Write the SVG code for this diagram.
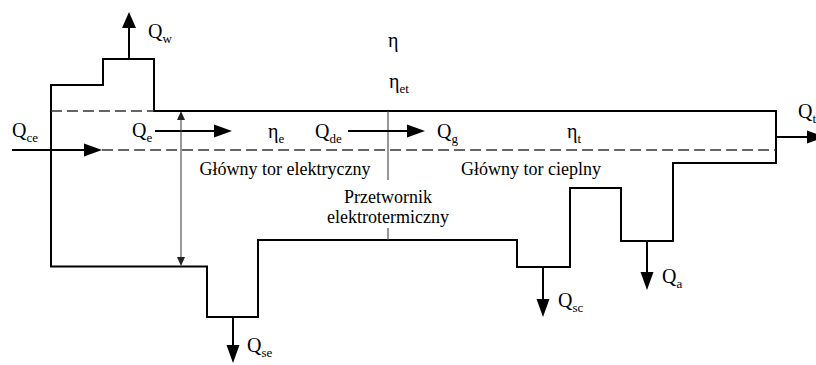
<svg xmlns="http://www.w3.org/2000/svg" width="816" height="365" viewBox="0 0 816 365">
<style>
.o{fill:none;stroke:#000;stroke-width:2;stroke-linejoin:miter}
.d{fill:none;stroke:#333;stroke-width:1.3;stroke-dasharray:11 5}
.a{fill:none;stroke:#000;stroke-width:2}
.t{fill:none;stroke:#444;stroke-width:1.1}
.h{fill:#000}
.q{font-size:20px}
.s{font-size:13px}
.l{font-size:18px}
</style>
<rect width="816" height="365" fill="#fff"/>
<g id="body">
<path class="o" d="M51,266.5 V85 H103 V59 H154 V111 H776 V163 H673 V241 H621 V188 H570 V267 H517 V240 H258 V317 H207 V266.5 Z"/>
<path class="d" d="M51,111 H154"/>
<path class="d" d="M102,150 H776"/>
<path class="t" d="M388,111 V180 M388,228 V240"/>
</g>
<g id="connectors">
<path class="a" d="M129,59 V26"/><polygon class="h" points="129,12 122,28 136,28"/>
<path class="a" d="M12,150 H86"/><polygon class="h" points="102,150 84,143.5 84,156.5"/>
<path class="a" d="M155,131 H215"/><polygon class="h" points="232,131 214,124.5 214,137.5"/>
<path class="a" d="M348,131 H408"/><polygon class="h" points="425,131 407,124.5 407,137.5"/>
<path class="a" d="M776,137 H810"/><polygon class="h" points="825,137 807,130.5 807,143.5"/>
<path class="a" d="M233,317 V347"/><polygon class="h" points="233,363 226.5,345 239.5,345"/>
<path class="a" d="M543,267 V301"/><polygon class="h" points="543,317 536.5,299 549.5,299"/>
<path class="a" d="M647,241 V274"/><polygon class="h" points="647,290 640.5,272 653.5,272"/>
<path class="t" d="M181,118 V259"/>
<polygon fill="#222" points="181,111 177,120 185,120"/>
<polygon fill="#222" points="181,266 177,257 185,257"/>
</g>
<g id="labels" font-family="'Liberation Serif', 'Times New Roman', 'DejaVu Serif', serif" fill="#000">
<text x="148" y="38" class="q">Q<tspan class="s" dy="5">w</tspan></text>
<text x="12" y="137" class="q">Q<tspan class="s" dy="5">ce</tspan></text>
<text x="132" y="137" class="q">Q<tspan class="s" dy="5">e</tspan></text>
<text x="268" y="138" class="q">η<tspan class="s" dy="5">e</tspan></text>
<text x="315" y="138" class="q">Q<tspan class="s" dy="5">de</tspan></text>
<text x="437" y="138" class="q">Q<tspan class="s" dy="5">g</tspan></text>
<text x="567" y="138" class="q">η<tspan class="s" dy="5">t</tspan></text>
<text x="388" y="47" class="q">η</text>
<text x="389" y="88" class="q">η<tspan class="s" dy="5">et</tspan></text>
<text x="798" y="118" class="q">Q<tspan class="s" dy="5">t</tspan></text>
<text x="247" y="352" class="q">Q<tspan class="s" dy="5">se</tspan></text>
<text x="558" y="307" class="q">Q<tspan class="s" dy="5">sc</tspan></text>
<text x="662" y="283" class="q">Q<tspan class="s" dy="5">a</tspan></text>
<text x="285" y="175" class="l" text-anchor="middle">Główny tor elektryczny</text>
<text x="531" y="175" class="l" text-anchor="middle">Główny tor cieplny</text>
<text x="388" y="203" class="l" text-anchor="middle">Przetwornik</text>
<text x="388" y="223" class="l" text-anchor="middle">elektrotermiczny</text>
</g>
</svg>
